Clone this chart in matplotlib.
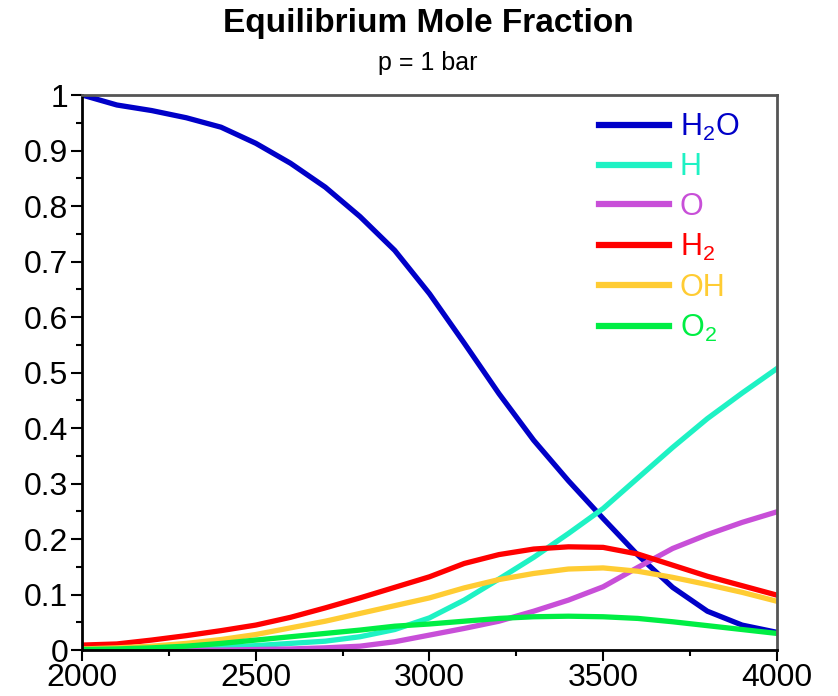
import numpy as np
import matplotlib
matplotlib.use("Agg")
import matplotlib.pyplot as plt
from matplotlib.ticker import MultipleLocator, FormatStrFormatter

# %%
# Equilibrium composition of water vapour, p = 1 bar
T = [2000, 2100, 2200, 2300, 2400, 2500, 2600, 2700, 2800, 2900, 3000,
     3100, 3200, 3300, 3400, 3500, 3600, 3700, 3800, 3900, 4000]

x_h2o = [1.000, 0.982, 0.972, 0.959, 0.942, 0.913, 0.877, 0.834, 0.781, 0.720, 0.642,
         0.553, 0.462, 0.378, 0.305, 0.237, 0.171, 0.113, 0.070, 0.045, 0.032]
x_h = [0.000, 0.001, 0.002, 0.003, 0.005, 0.008, 0.012, 0.016, 0.024, 0.037, 0.058,
       0.090, 0.128, 0.167, 0.210, 0.255, 0.310, 0.365, 0.417, 0.463, 0.507]
x_o = [0.000, 0.000, 0.000, 0.000, 0.000, 0.001, 0.002, 0.004, 0.007, 0.015, 0.027,
       0.039, 0.052, 0.070, 0.090, 0.114, 0.149, 0.183, 0.208, 0.230, 0.249]
x_h2 = [0.009, 0.011, 0.018, 0.026, 0.035, 0.045, 0.059, 0.076, 0.094, 0.113, 0.132,
        0.156, 0.172, 0.182, 0.186, 0.185, 0.173, 0.153, 0.133, 0.116, 0.099]
x_oh = [0.002, 0.004, 0.007, 0.012, 0.019, 0.028, 0.040, 0.052, 0.066, 0.080, 0.094,
        0.112, 0.127, 0.138, 0.146, 0.148, 0.142, 0.131, 0.118, 0.104, 0.088]
x_o2 = [0.001, 0.002, 0.004, 0.007, 0.012, 0.018, 0.024, 0.030, 0.036, 0.043, 0.047,
        0.052, 0.057, 0.060, 0.061, 0.060, 0.057, 0.051, 0.044, 0.037, 0.030]

species = [r'H$_2$O', 'H', 'O', r'H$_2$', 'OH', r'O$_2$']
colors = ['#0000c8', '#1ef2c4', '#c84fd8', '#ff0000', '#ffcc33', '#00ee44']
series = [x_h2o, x_h, x_o, x_h2, x_oh, x_o2]

# %%
plt.rcParams['font.family'] = ['Liberation Sans', 'DejaVu Sans']
plt.rcParams['mathtext.fontset'] = 'custom'
plt.rcParams['mathtext.rm'] = 'Liberation Sans'
plt.rcParams['mathtext.it'] = 'Liberation Sans'

fig = plt.figure(figsize=(8.38, 6.96), dpi=100)
ax = fig.add_axes([0.098, 0.066, 0.829, 0.7975])

for y, c, lab in zip(series, colors, species):
    ax.plot(T, y, color=c, linewidth=3.8, label=lab, solid_joinstyle='round')

ax.set_xlim(2000, 4000)
ax.set_ylim(0, 1)
ax.xaxis.set_major_locator(MultipleLocator(500))
ax.xaxis.set_minor_locator(MultipleLocator(250))
ax.yaxis.set_major_locator(MultipleLocator(0.1))
ax.yaxis.set_minor_locator(MultipleLocator(0.05))
ax.yaxis.set_major_formatter(FormatStrFormatter('%g'))
ax.tick_params(which='major', direction='out', length=8, width=1.5, labelsize=23, pad=2)
ax.tick_params(axis='x', which='major', pad=1)
ax.tick_params(which='minor', direction='out', length=4, width=1.5)
for s in ['left', 'bottom']:
    ax.spines[s].set_linewidth(2)
for s in ['top', 'right']:
    ax.spines[s].set_linewidth(2)
    ax.spines[s].set_color('#555555')

leg = ax.legend(loc='upper right', bbox_to_anchor=(0.985, 1.02), frameon=False,
                fontsize=22, handlelength=2.3, handletextpad=0.35, labelspacing=0.32)
for txt, c in zip(leg.get_texts(), colors):
    txt.set_color(c)
for h in leg.get_lines():
    h.set_linewidth(4.5)

fig.text(0.511, 0.966, 'Equilibrium Mole Fraction', ha='center', va='center',
         fontsize=24, fontweight='bold')
fig.text(0.511, 0.909, 'p = 1 bar', ha='center', va='center', fontsize=18)

fig.savefig('out.png', dpi=100)
